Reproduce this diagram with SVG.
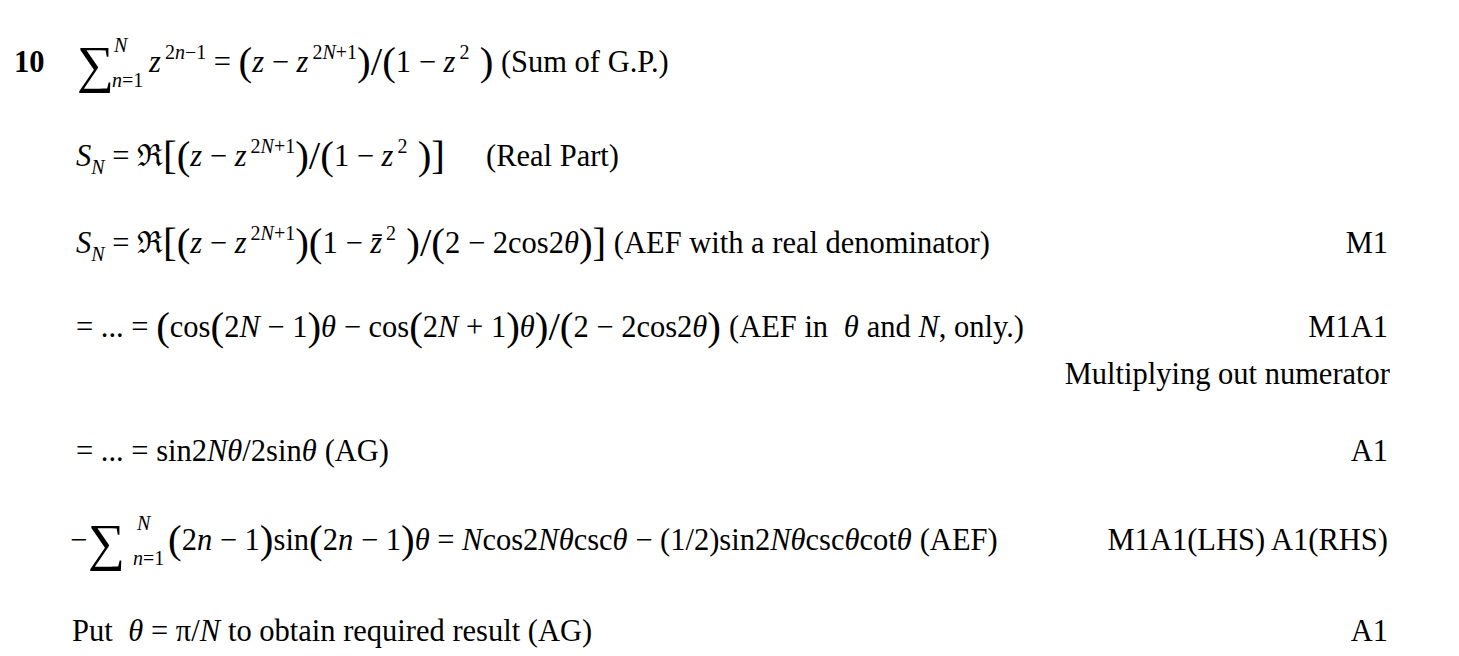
<svg xmlns="http://www.w3.org/2000/svg" width="1459" height="656" viewBox="0 0 1459 656">
<style>
text{font-family:"Liberation Serif",serif;font-size:30.5px;fill:#000}
.i{font-style:italic}
.s{font-size:20px}
.b{font-size:41px}
.sg{font-size:52px}
.r{text-anchor:end}
</style>
<rect width="1459" height="656" fill="#fff"/>
<g id="line1">
<text x="14" y="72" font-weight="bold">10</text>
<text x="77" y="82" class="sg">∑</text>
<text x="114" y="52" class="s i">N</text>
<text x="112" y="87" class="s"><tspan class="i">n</tspan>=1</text>
<text x="149" y="72"><tspan class="i">z</tspan><tspan class="s" dx="4" dy="-13">2<tspan class="i">n</tspan>−1</tspan><tspan dy="13"> = </tspan><tspan class="b" dy="3">(</tspan><tspan class="i" dy="-3">z</tspan> − <tspan class="i">z</tspan><tspan class="s" dx="4" dy="-13">2<tspan class="i">N</tspan>+1</tspan><tspan class="b" dy="16">)/(</tspan><tspan dy="-3">1 − </tspan><tspan class="i">z</tspan><tspan class="s" dx="4" dy="-13">2</tspan><tspan class="b" dy="16"> )</tspan><tspan dy="-3">  (Sum of G.P.)</tspan></text>
</g>
<g id="line2">
<text x="76" y="166"><tspan class="i">S</tspan><tspan class="s i" dy="8">N</tspan><tspan dy="-8"> = ℜ</tspan><tspan class="b" dy="3">[(</tspan><tspan class="i" dy="-3">z</tspan> − <tspan class="i">z</tspan><tspan class="s" dx="4" dy="-13">2<tspan class="i">N</tspan>+1</tspan><tspan class="b" dy="16">)/(</tspan><tspan dy="-3">1 − </tspan><tspan class="i">z</tspan><tspan class="s" dx="4" dy="-13">2</tspan><tspan class="b" dy="16"> )]</tspan></text>
<text x="486" y="166">(Real Part)</text>
</g>
<g id="line3">
<text x="76" y="253"><tspan class="i">S</tspan><tspan class="s i" dy="8">N</tspan><tspan dy="-8"> = ℜ</tspan><tspan class="b" dy="3">[(</tspan><tspan class="i" dy="-3">z</tspan> − <tspan class="i">z</tspan><tspan class="s" dx="4" dy="-13">2<tspan class="i">N</tspan>+1</tspan><tspan class="b" dy="16">)(</tspan><tspan dy="-3">1 − </tspan><tspan class="i">z̄</tspan><tspan class="s" dx="4" dy="-13">2</tspan><tspan class="b" dy="16"> )/(</tspan><tspan dy="-3">2 − 2cos2</tspan><tspan class="i">θ</tspan><tspan class="b" dy="3">)]</tspan><tspan dy="-3">  (AEF with a real denominator)</tspan></text>
<text x="1388" y="253" class="r">M1</text>
</g>
<g id="line4">
<text x="76" y="337">= ... = <tspan class="b" dy="3">(</tspan><tspan dy="-3">cos</tspan><tspan class="b" dy="3">(</tspan><tspan dy="-3">2</tspan><tspan class="i">N</tspan> − 1<tspan class="b" dy="3">)</tspan><tspan class="i" dy="-3">θ</tspan> − cos<tspan class="b" dy="3">(</tspan><tspan dy="-3">2</tspan><tspan class="i">N</tspan> + 1<tspan class="b" dy="3">)</tspan><tspan class="i" dy="-3">θ</tspan><tspan class="b" dy="3">)/(</tspan><tspan dy="-3">2 − 2cos2</tspan><tspan class="i">θ</tspan><tspan class="b" dy="3">)</tspan><tspan dy="-3" dx="8">(AEF in </tspan><tspan class="i" dx="8">θ</tspan><tspan dx="8">and </tspan><tspan class="i">N</tspan>, only.)</text>
<text x="1388" y="337" class="r">M1A1</text>
<text x="1390" y="384" class="r">Multiplying out numerator</text>
</g>
<g id="line5">
<text x="76" y="461">= ... = sin2<tspan class="i">Nθ</tspan>/2sin<tspan class="i">θ</tspan><tspan dx="8">(AG)</tspan></text>
<text x="1388" y="461" class="r">A1</text>
</g>
<g id="line6">
<text x="70" y="550">−</text>
<text x="88" y="560" class="sg">∑</text>
<text x="137" y="530" class="s i">N</text>
<text x="133" y="565" class="s"><tspan class="i">n</tspan>=1</text>
<text x="168" y="550"><tspan class="b" dy="3">(</tspan><tspan dy="-3">2</tspan><tspan class="i">n</tspan> − 1<tspan class="b" dy="3">)</tspan><tspan dy="-3">sin</tspan><tspan class="b" dy="3">(</tspan><tspan dy="-3">2</tspan><tspan class="i">n</tspan> − 1<tspan class="b" dy="3">)</tspan><tspan class="i" dy="-3">θ</tspan> = <tspan class="i">N</tspan>cos2<tspan class="i">Nθ</tspan>csc<tspan class="i">θ</tspan> − (1/2)sin2<tspan class="i">Nθ</tspan>csc<tspan class="i">θ</tspan>cot<tspan class="i">θ</tspan><tspan dx="8">(AEF)</tspan></text>
<text x="1388" y="550" class="r">M1A1(LHS) A1(RHS)</text>
</g>
<g id="line7">
<text x="72" y="641">Put <tspan class="i" dx="8">θ</tspan> = π/<tspan class="i">N</tspan><tspan dx="8">to obtain required result (AG)</tspan></text>
<text x="1388" y="641" class="r">A1</text>
</g>
</svg>
